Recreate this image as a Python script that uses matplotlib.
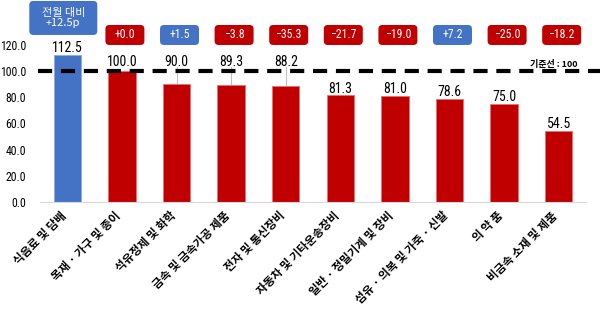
import matplotlib
matplotlib.use("Agg")
import matplotlib.pyplot as plt
import matplotlib.transforms as mtrans
from matplotlib.patches import FancyBboxPatch
from matplotlib import font_manager

categories = ["식음료 및 담배", "목재 · 가구 및 종이", "석유정제 및 화학", "금속 및 금속가공 제품",
              "전자 및 통신장비", "자동차 및 기타운송장비", "일반 · 정밀기계 및 장비",
              "섬유 · 의복 및 가죽 · 신발", "의 약 품", "비금속 소재 및 제품"]
values = [112.5, 100.0, 90.0, 89.3, 88.2, 81.3, 81.0, 78.6, 75.0, 54.5]
changes = [12.5, 0.0, 1.5, -3.8, -35.3, -21.7, -19.0, 7.2, -25.0, -18.2]
bar_is_blue = [True, False, False, False, False, False, False, False, False, False]
baseline = 100
yticks = [0, 20, 40, 60, 80, 100, 120]

BLUE = "#4472C4"
RED = "#C00000"

# pick a condensed font if one is installed
ttf = font_manager.fontManager.ttflist
names = {f.name for f in ttf}
num_font = None
for cand in ["Liberation Sans Narrow", "Roboto Condensed", "Open Sans Condensed", "Arial Narrow"]:
    if cand in names:
        num_font = dict(family=[cand, "DejaVu Sans"])
        break
if num_font is None:
    cond = [f for f in ttf if f.name in ("DejaVu Sans", "Open Sans", "Roboto", "Noto Sans")
            and str(f.stretch) in ("condensed", "semi-condensed", "75", "87", "62")]
    if cond:
        num_font = dict(family=[cond[0].name, "DejaVu Sans"], stretch=cond[0].stretch)
    else:
        num_font = dict(family=["Liberation Sans", "DejaVu Sans"])
KR = ["Noto Sans CJK KR", "DejaVu Sans"]

fig = plt.figure(figsize=(6, 3.09), dpi=100)
ax = fig.add_axes([40/600, 1-202/309, 546/600, 157.2/309])
ax.set_xlim(-0.5, len(values)-0.5)
ax.set_ylim(0, 120)

x = list(range(len(values)))
colors = [BLUE if b else RED for b in bar_is_blue]
edges = ["#8FAADC" if b else "#E57373" for b in bar_is_blue]
ax.bar(x, values, width=0.5, color=colors, edgecolor=edges, linewidth=0.7, zorder=2)

for s in ["left", "right", "top"]:
    ax.spines[s].set_visible(False)
ax.spines["bottom"].set_color("#D9D9D9")
ax.spines["bottom"].set_linewidth(0.8)

ax.set_yticks(yticks)
ax.set_yticklabels([f"{v:.1f}" for v in yticks], fontsize=8.5, **num_font)
ax.tick_params(axis="y", length=0, pad=10)
ax.tick_params(axis="x", length=0, pad=0)
ax.set_xticks(x)
ax.set_xticklabels(categories, rotation=45, ha="right", va="center", rotation_mode="anchor",
                   family=KR, fontweight="bold", fontsize=8.3)
offset = mtrans.ScaledTranslation(-2/72, -8.5/72, fig.dpi_scale_trans)
for lbl in ax.get_xticklabels():
    lbl.set_transform(lbl.get_transform() + offset)

# baseline dashed line
ax.axhline(baseline, xmin=-2/546, xmax=560/546, color="black", lw=3,
           dashes=(3.4, 2.1), dash_capstyle="butt", clip_on=False, zorder=3)
ax.text(9.35, baseline + 5, "기준선 : 100", family=KR, fontweight="bold", fontsize=6.5,
        ha="right", va="center", zorder=4)

# value labels
for i, v in enumerate(values):
    if 84 < v < 104:
        ly = 107
        if v < baseline:
            ax.plot([i, i], [v, ly - 4], color="#BFBFBF", lw=0.8, zorder=1)
    else:
        ly = v + 5
    ax.text(i, ly, f"{v:.1f}", fontsize=10, ha="center", va="center",
            zorder=5, color="black", **num_font)

# change boxes
xpx = 546 / len(values)
ypx = 157.2 / 120
aspect = xpx / ypx
for i, c in enumerate(changes):
    col = BLUE if c > 0 else RED
    if i == 0:
        w, h = 68 / xpx, 34 / ypx
        cx, cy = i - 4 / xpx, 140.5
        txt = f"전월 대비\n+{c:.1f}p"
        fkw = dict(family=KR, fontweight="medium")
        fs = 8
    else:
        w, h = 39 / xpx, 20 / ypx
        cx, cy = i + 3 / xpx, 127.5
        sign = "+" if c >= 0 else "\u2212"
        txt = f"{sign}{abs(c):.1f}"
        fkw = dict(num_font)
        fs = 8.5
    patch = FancyBboxPatch((cx - w/2, cy - h/2), w, h,
                           boxstyle=f"round,pad=0,rounding_size={4/xpx}",
                           mutation_aspect=aspect, fc=col, ec="none",
                           clip_on=False, transform=ax.transData, zorder=5)
    ax.add_patch(patch)
    ax.text(cx, cy, txt, fontsize=fs, color="white",
            ha="center", va="center", linespacing=1.1, clip_on=False, zorder=6, **fkw)

fig.savefig("out.png", dpi=100)
